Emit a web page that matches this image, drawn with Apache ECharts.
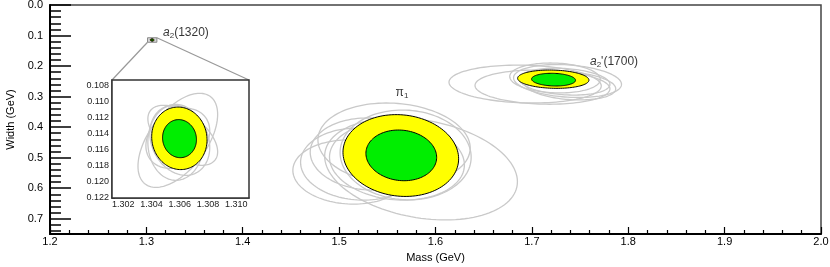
<!DOCTYPE html>
<html><head><meta charset="utf-8">
<script src="https://cdn.jsdelivr.net/npm/echarts@6/dist/echarts.min.js"></script>
<style>html,body{margin:0;padding:0;background:#fff}#c{width:830px;height:267px}</style>
</head><body><div id="c"></div>
<script>
// ---- data: each ellipse = [mass, width, sigmaMass, sigmaWidth, correlation]
const pi1Grey = [
  [1.585, 0.537, 0.100, 0.167, 0.25],
  [1.512, 0.547, 0.060, 0.105, 0.05],
  [1.522, 0.521, 0.062, 0.118, 0.05],
  [1.532, 0.488, 0.062, 0.118, 0.05],
  [1.557, 0.455, 0.079, 0.134, 0.10],
  [1.569, 0.491, 0.068, 0.147, 0.05],
  [1.560, 0.511, 0.070, 0.128, 0.10]
];
const pi1Outer = [1.564, 0.493, 0.060, 0.134, 0.08];
const pi1Inner = [1.5645, 0.4925, 0.0367, 0.083, 0.08];

const a2pGrey = [
  [1.693, 0.259, 0.079, 0.062, 0.10],
  [1.711, 0.269, 0.070, 0.056, 0.10],
  [1.737, 0.249, 0.056, 0.054, 0.20],
  [1.734, 0.251, 0.047, 0.044, 0.20],
  [1.724, 0.239, 0.047, 0.049, 0.10],
  [1.740, 0.265, 0.047, 0.046, 0.20]
];
const a2pOuter = [1.7222, 0.243, 0.037, 0.030, 0.10];
const a2pInner = [1.7225, 0.2445, 0.0228, 0.0208, 0.10];

const a2Grey = [
  [1.30586, 0.11479, 0.00282, 0.00588, -0.55],
  [1.30621, 0.11416, 0.00247, 0.00375, 0.55],
  [1.30600, 0.11479, 0.00212, 0.00438, 0.20],
  [1.30586, 0.11454, 0.00226, 0.00375, -0.25],
  [1.30572, 0.11504, 0.00198, 0.00475, 0.00]
];
const a2Outer = [1.30597, 0.11454, 0.00196, 0.00391, 0.05];
const a2Inner = [1.30598, 0.11458, 0.00120, 0.00238, 0.05];

// zoom window shown in the inset
const insetMass = [1.3012, 1.3109];
const insetWidth = [0.10725, 0.122];

// tick labels
const massTicks = [1.2, 1.3, 1.4, 1.5, 1.6, 1.7, 1.8, 1.9, 2.0];
const widthMajor = [0.0, 0.1, 0.2, 0.3, 0.4, 0.5, 0.6, 0.7];
const widthMinor = [0.02,0.04,0.06,0.08,0.12,0.14,0.16,0.18,0.22,0.24,0.26,0.28,0.32,0.34,0.36,0.38,
                    0.42,0.44,0.46,0.48,0.52,0.54,0.56,0.58,0.62,0.64,0.66,0.68,0.72,0.74];
const insetMassTicks = [1.302, 1.304, 1.306, 1.308, 1.310];
const insetWidthTicks = [0.108, 0.110, 0.112, 0.114, 0.116, 0.118, 0.120, 0.122];
const insetWidthMinor = [0.1075,0.1085,0.109,0.1095,0.1105,0.111,0.1115,0.1125,0.113,0.1135,0.1145,0.115,0.1155,
                         0.1165,0.117,0.1175,0.1185,0.119,0.1195,0.1205,0.121,0.1215];

// labels: [mass, width, text]
const labelsMain = [
  [1.3173, 0.0917, 'a2'],
  [1.7603, 0.1867, 'a2p'],
  [1.5652, 0.288, 'pi1']
];

// ---- build
const FONT = 'Liberation Sans';
function ellipseSeries(data, kind, gi, z) {
  const st = kind === 'grey' ? {fill: 'none', stroke: '#c9c9c9', lineWidth: 1.3}
           : kind === 'outer' ? {fill: '#ffff00', stroke: '#000', lineWidth: 1}
           : {fill: '#00ee00', stroke: '#000', lineWidth: 1};
  return {
    type: 'custom', xAxisIndex: gi === 0 ? 0 : 1, yAxisIndex: gi === 0 ? 0 : 2,
    z: z, silent: true, animation: false,
    encode: {x: 0, y: 1},
    data: data,
    renderItem: function (params, api) {
      const m = api.value(0), w = api.value(1), sm = api.value(2), sw = api.value(3), r = api.value(4);
      const pts = [];
      const q = Math.sqrt(1 - r * r);
      for (let i = 0; i < 120; i++) {
        const t = 2 * Math.PI * i / 120;
        pts.push(api.coord([m + sm * Math.cos(t), w + sw * (r * Math.cos(t) + q * Math.sin(t))]));
      }
      return {type: 'polygon', shape: {points: pts}, style: Object.assign({}, st)};
    }
  };
}

const chart = echarts.init(document.getElementById('c'), null, {renderer: 'canvas'});
const option = {
  animation: false,
  backgroundColor: '#fff',
  textStyle: {fontFamily: FONT},
  grid: [
    {left: 50, right: 9, top: 5, bottom: 33, show: true, borderColor: '#444', borderWidth: 1.5, backgroundColor: '#fff',
     containLabel: false, outerBoundsMode: 'none'},
    {left: 112, top: 80, width: 137, height: 118, show: true, borderColor: '#333', borderWidth: 1.5, backgroundColor: '#fff', z: 5,
     containLabel: false, outerBoundsMode: 'none'}
  ],
  xAxis: [
    {
      type: 'value', gridIndex: 0, min: 1.2, max: 2.0, interval: 0.1, position: 'bottom',
      name: 'Mass (GeV)', nameLocation: 'middle', nameGap: 18,
      nameTextStyle: {fontSize: 11, color: '#000', fontFamily: FONT},
      axisLine: {onZero: false, lineStyle: {color: '#000', width: 2}},
      axisTick: {inside: true, length: 7, lineStyle: {color: '#000', width: 1.2}},
      minorTick: {show: true, splitNumber: 5, length: 4, lineStyle: {color: '#000', width: 1.2}},
      splitLine: {show: false},
      axisLabel: {fontSize: 11, color: '#000', margin: 2, fontFamily: FONT,
        customValues: massTicks, formatter: v => v.toFixed(1)}
    },
    {
      type: 'value', gridIndex: 1, min: insetMass[0], max: insetMass[1], position: 'bottom',
      axisLine: {onZero: false, lineStyle: {color: '#333', width: 1.5}},
      axisTick: {inside: true, length: 2, customValues: insetMassTicks, lineStyle: {color: '#333'}},
      splitLine: {show: false},
      axisLabel: {fontSize: 9, color: '#222', margin: 2, fontFamily: FONT,
        customValues: insetMassTicks, formatter: v => v.toFixed(3)}
    }
  ],
  yAxis: [
    {
      type: 'value', gridIndex: 0, min: 0, max: 0.75, inverse: true, position: 'left',
      name: 'Width (GeV)', nameLocation: 'middle', nameGap: 34, nameRotate: 90,
      nameTextStyle: {fontSize: 11, color: '#000', fontFamily: FONT},
      axisLine: {onZero: false, lineStyle: {color: '#000', width: 2}},
      axisTick: {inside: true, length: 21, customValues: widthMajor, lineStyle: {color: '#000', width: 1.5}},
      splitLine: {show: false},
      axisLabel: {fontSize: 11, color: '#000', margin: 7, fontFamily: FONT,
        customValues: widthMajor, formatter: v => v.toFixed(1)}
    },
    {
      type: 'value', gridIndex: 0, min: 0, max: 0.75, inverse: true, position: 'left', offset: 0,
      axisLine: {show: false, onZero: false},
      axisTick: {inside: true, length: 11, customValues: widthMinor, lineStyle: {color: '#000', width: 1.5}},
      splitLine: {show: false},
      axisLabel: {show: false}
    },
    {
      type: 'value', gridIndex: 1, min: insetWidth[0], max: insetWidth[1], inverse: true, position: 'left',
      axisLine: {onZero: false, lineStyle: {color: '#333', width: 1.5}},
      axisTick: {inside: true, length: 3, customValues: insetWidthTicks, lineStyle: {color: '#333'}},
      splitLine: {show: false},
      axisLabel: {fontSize: 9, color: '#222', margin: 3, fontFamily: FONT,
        customValues: insetWidthTicks, formatter: v => v.toFixed(3)}
    },
    {
      type: 'value', gridIndex: 1, min: insetWidth[0], max: insetWidth[1], inverse: true, position: 'left', offset: 0,
      axisLine: {show: false, onZero: false},
      axisTick: {inside: true, length: 1.5, customValues: insetWidthMinor, lineStyle: {color: '#333'}},
      splitLine: {show: false},
      axisLabel: {show: false}
    }
  ],
  series: [
    ellipseSeries(pi1Grey, 'grey', 0, 2),
    ellipseSeries([pi1Outer], 'outer', 0, 3),
    ellipseSeries([pi1Inner], 'inner', 0, 4),
    ellipseSeries(a2pGrey, 'grey', 0, 2),
    ellipseSeries([a2pOuter], 'outer', 0, 3),
    ellipseSeries([a2pInner], 'inner', 0, 4),
    // zoom window rectangle in main grid
    {
      type: 'custom', xAxisIndex: 0, yAxisIndex: 0, z: 2, silent: true,
      encode: {x: 0, y: 1},
      data: [[insetMass[0], insetWidth[0], insetMass[1], insetWidth[1]]],
      renderItem: function (params, api) {
        const p0 = api.coord([api.value(0), api.value(1)]);
        const p1 = api.coord([api.value(2), api.value(3)]);
        return {type: 'rect', shape: {x: p0[0], y: p0[1], width: p1[0] - p0[0], height: p1[1] - p0[1]},
          style: {fill: '#d8d8d8', stroke: '#888', lineWidth: 1}};
      }
    },
    ellipseSeries([a2Outer], 'outer', 0, 3),
    ellipseSeries([a2Inner], 'inner', 0, 4),
    // inset
    ellipseSeries(a2Grey, 'grey', 1, 6),
    ellipseSeries([a2Outer], 'outer', 1, 7),
    ellipseSeries([a2Inner], 'inner', 1, 8),
    // text labels
    {
      type: 'scatter', xAxisIndex: 0, yAxisIndex: 0, z: 9, symbolSize: 0, silent: true,
      data: labelsMain.filter(d => d[2] !== 'pi1'),
      label: {
        show: true,
        position: 'right', distance: 0,
        formatter: function (p) {
          const k = p.data[2];
          if (k === 'a2') return '{i|a}{s|2}{n|(1320)}';
          return "{i|a}{s|2}{n|'(1700)}";
        },
        rich: {
          i: {fontSize: 12, fontStyle: 'italic', color: '#000', fontFamily: FONT},
          s: {fontSize: 8, color: '#000', padding: [6, 0, 0, 0], fontFamily: FONT},
          n: {fontSize: 12, color: '#000', fontFamily: FONT}
        }
      }
    },
    {
      type: 'scatter', xAxisIndex: 0, yAxisIndex: 0, z: 9, symbolSize: 0, silent: true,
      data: labelsMain.filter(d => d[2] === 'pi1'),
      label: {
        show: true, position: 'inside',
        formatter: '{n|π}{s|1}',
        rich: {
          n: {fontSize: 12, color: '#000', fontFamily: FONT},
          s: {fontSize: 8, color: '#000', padding: [6, 0, 0, 0], fontFamily: FONT}
        }
      }
    }
  ]
};
chart.setOption(option);

// connector lines from zoom window to inset
const rBL = chart.convertToPixel({gridIndex: 0}, [insetMass[0], insetWidth[1]]);
const rTR = chart.convertToPixel({gridIndex: 0}, [insetMass[1], insetWidth[0]]);
const iTL = chart.convertToPixel({gridIndex: 1}, [insetMass[0], insetWidth[0]]);
const iTR = chart.convertToPixel({gridIndex: 1}, [insetMass[1], insetWidth[0]]);
chart.setOption({
  graphic: [
    {type: 'line', z: 1, silent: true, shape: {x1: rBL[0], y1: rBL[1], x2: iTL[0], y2: iTL[1]}, style: {stroke: '#999', lineWidth: 1.2}},
    {type: 'line', z: 1, silent: true, shape: {x1: rTR[0], y1: rTR[1], x2: iTR[0], y2: iTR[1]}, style: {stroke: '#999', lineWidth: 1.2}}
  ]
});
</script>
</body></html>
